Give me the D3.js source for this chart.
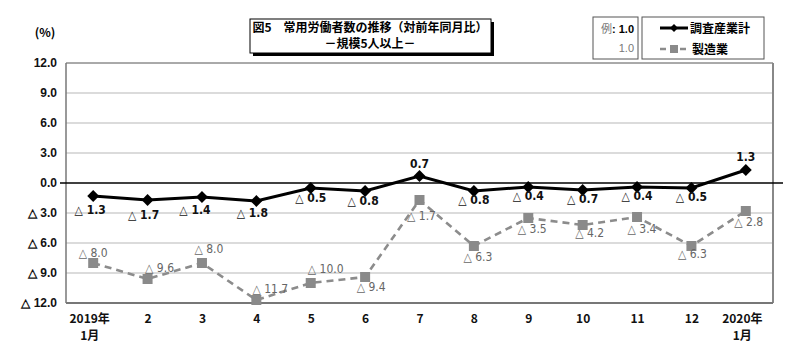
<!DOCTYPE html>
<html><head><meta charset="utf-8">
<script src="https://cdn.jsdelivr.net/npm/d3@7"></script>
<style>
body{margin:0;background:#fff;}
svg{display:block;}
text{font-family:"Noto Sans CJK JP","Liberation Sans",sans-serif;}
.narrow{font-family:"Liberation Sans Narrow","DejaVu Sans Condensed","Liberation Sans",sans-serif;}
</style></head>
<body>
<svg id="c" width="800" height="358"></svg>
<script>
const categories = ["2019年\n1月","2","3","4","5","6","7","8","9","10","11","12","2020年\n1月"];
const totalValues = [-1.3,-1.7,-1.4,-1.8,-0.5,-0.8,0.7,-0.8,-0.4,-0.7,-0.4,-0.5,1.3];
const mfgValues = [-8.0,-9.6,-8.0,-11.7,-10.0,-9.4,-1.7,-6.3,-3.5,-4.2,-3.4,-6.3,-2.8];
const yTicks = [12,9,6,3,0,-3,-6,-9,-12];
const seriesNames = ["調査産業計","製造業"];
const titleLines = ["図5　常用労働者数の推移（対前年同月比）","－規模5人以上－"];

const svg = d3.select("#c");
const L=66, R=773, T=63, B=303;
const x = d3.scalePoint().domain(d3.range(categories.length)).range([L,R]).padding(0.5);
const y = d3.scaleLinear().domain([-12,12]).range([B,T]);
const fmt = v => v < 0 ? "△ " + Math.abs(v).toFixed(1) : v.toFixed(1);

// grid
svg.append("g").selectAll("line").data(yTicks.filter(v=>v!==0 && Math.abs(v)!==12)).join("line")
  .attr("x1",L).attr("x2",R).attr("y1",d=>y(d)).attr("y2",d=>y(d))
  .attr("stroke","#b8b8b8").attr("stroke-width",1.2);

// frame
svg.append("line").attr("x1",L).attr("x2",R).attr("y1",T).attr("y2",T).attr("stroke","#555").attr("stroke-width",1);
svg.append("line").attr("x1",R).attr("x2",R).attr("y1",T).attr("y2",B).attr("stroke","#888").attr("stroke-width",2);
svg.append("line").attr("x1",L).attr("x2",R).attr("y1",B).attr("y2",B).attr("stroke","#777").attr("stroke-width",2);
svg.append("line").attr("x1",L).attr("x2",L).attr("y1",T).attr("y2",B).attr("stroke","#777").attr("stroke-width",1.5);
// zero line
svg.append("line").attr("x1",60).attr("x2",783).attr("y1",y(0)).attr("y2",y(0)).attr("stroke","#000").attr("stroke-width",1.5);

// y axis labels
const yAxis = d3.axisLeft(y).tickValues(yTicks).tickSize(0).tickPadding(9).tickFormat(fmt);
const gy = svg.append("g").attr("transform",`translate(${L},0)`).call(yAxis);
gy.select(".domain").remove();
gy.selectAll("text").attr("font-size",12).attr("font-weight","bold").attr("fill","#111")
  .style("font-family","'Liberation Sans',sans-serif");
svg.append("text").attr("x",45).attr("y",37).attr("text-anchor","middle").attr("font-size",12).attr("font-weight","bold").text("(%)");

// x axis labels
const xAxis = d3.axisBottom(x).tickSize(0).tickFormat(()=> "");
const gx = svg.append("g").attr("transform",`translate(0,${B})`).call(xAxis);
gx.select(".domain").remove();
gx.selectAll(".tick").each(function(d){
  const lines = categories[d].split("\n");
  const t = d3.select(this).append("text").attr("fill","#111").attr("font-size",12).attr("font-weight","bold")
    .attr("text-anchor","middle");
  lines.forEach((s,i)=>t.append("tspan").attr("x", lines.length>1?-4:0).attr("y", 20+i*17).text(s));
});

// manufacturing series
const mfgData = mfgValues.map((v,i)=>({i,v}));
svg.append("path").datum(mfgData)
  .attr("d", d3.line().x(d=>x(d.i)).y(d=>y(d.v)))
  .attr("fill","none").attr("stroke","#8c8c8c").attr("stroke-width",2.6).attr("stroke-dasharray","7,5");
svg.append("g").selectAll("rect").data(mfgData).join("rect")
  .attr("x",d=>x(d.i)-5).attr("y",d=>y(d.v)-5).attr("width",10).attr("height",10).attr("fill","#8a8a8a");

// total series
const totData = totalValues.map((v,i)=>({i,v}));
svg.append("path").datum(totData)
  .attr("d", d3.line().x(d=>x(d.i)).y(d=>y(d.v)))
  .attr("fill","none").attr("stroke","#000").attr("stroke-width",3);
svg.append("g").selectAll("path").data(totData).join("path")
  .attr("transform",d=>`translate(${x(d.i)},${y(d.v)})`)
  .attr("d", d3.symbol(d3.symbolDiamond2, 90)).attr("fill","#000");

// labels for total
const totOff = [[-3,18],[-4,19],[-7,17],[-4,16],[0,14],[-2,14],[0,-8],[0,13],[0,13],[0,13],[0,13],[0,13],[0,-9]];
svg.append("g").selectAll("text").data(totData).join("text").attr("class","narrow")
  .attr("x",d=>x(d.i)+totOff[d.i][0]).attr("y",d=>y(d.v)+totOff[d.i][1])
  .attr("text-anchor","middle").attr("font-size",12).attr("font-weight","bold").attr("fill","#111")
  .text(d=>fmt(d.v));

// labels for manufacturing
const mfgOff = [[0,-6],[12,-7],[7,-10],[14,-7],[15,-10],[6,14],[2,20],[4,15],[4,15],[7,12],[5,16],[1,12],[3,15]];
svg.append("g").selectAll("text").data(mfgData).join("text").attr("class","narrow")
  .attr("x",d=>x(d.i)+mfgOff[d.i][0]).attr("y",d=>y(d.v)+mfgOff[d.i][1])
  .attr("text-anchor","middle").attr("font-size",12).attr("fill","#666")
  .text(d=>fmt(d.v));

// title box
svg.append("rect").attr("x",253).attr("y",22).attr("width",241).attr("height",34).attr("fill","#000");
svg.append("rect").attr("x",250).attr("y",19).attr("width",241).attr("height",34).attr("fill","#fff").attr("stroke","#000").attr("stroke-width",1);
svg.append("text").attr("x",370).attr("y",32).attr("text-anchor","middle").attr("font-size",12).attr("font-weight","bold").text(titleLines[0]);
svg.append("text").attr("x",370).attr("y",48).attr("text-anchor","middle").attr("font-size",12).attr("font-weight","bold").text(titleLines[1]);

// example box
svg.append("rect").attr("x",593).attr("y",17).attr("width",45).attr("height",42).attr("fill","#fff").attr("stroke","#555");
const ex = svg.append("text").attr("x",634).attr("y",33).attr("text-anchor","end").attr("font-size",11);
ex.append("tspan").attr("fill","#777").text("例");
ex.append("tspan").attr("font-weight","bold").attr("fill","#000").style("font-family","'Liberation Sans',sans-serif").text(": 1.0");
svg.append("text").attr("x",634).attr("y",52).attr("text-anchor","end").attr("font-size",11).attr("fill","#777")
  .style("font-family","'Liberation Sans',sans-serif").text("1.0");

// legend box
svg.append("rect").attr("x",642).attr("y",17).attr("width",122).attr("height",42).attr("fill","#fff").attr("stroke","#555");
svg.append("line").attr("x1",660).attr("x2",688).attr("y1",28).attr("y2",28).attr("stroke","#000").attr("stroke-width",3);
svg.append("path").attr("transform","translate(674,28)").attr("d",d3.symbol(d3.symbolDiamond2,40)).attr("fill","#000");
svg.append("text").attr("x",690).attr("y",33).attr("font-size",12).attr("font-weight","bold").text(seriesNames[0]);
svg.append("line").attr("x1",660).attr("x2",688).attr("y1",49).attr("y2",49).attr("stroke","#8c8c8c").attr("stroke-width",2.6).attr("stroke-dasharray","6,4");
svg.append("rect").attr("x",670).attr("y",45).attr("width",8).attr("height",8).attr("fill","#8a8a8a");
svg.append("text").attr("x",692).attr("y",54).attr("font-size",12).attr("font-weight","bold").text(seriesNames[1]);
</script>
</body></html>
